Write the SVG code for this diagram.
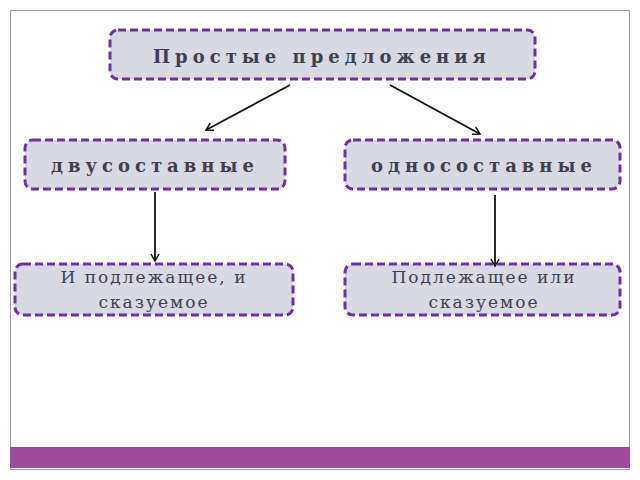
<svg xmlns="http://www.w3.org/2000/svg" width="640" height="480" viewBox="0 0 640 480">
<style>
.box{fill:#d9d9e3;stroke:#7030a0;stroke-width:3;stroke-dasharray:8 4}
.b{font-family:"DejaVu Serif","Liberation Serif",serif;font-weight:bold;fill:#404050;text-anchor:middle}
.n{font-family:"DejaVu Serif","Liberation Serif",serif;fill:#404050;text-anchor:middle;font-size:17px;letter-spacing:2px}
.c{stroke:#111;stroke-width:1.8;fill:none;marker-end:url(#a)}
</style>
<defs><marker id="a" markerWidth="10" markerHeight="10" refX="8" refY="5" orient="auto" markerUnits="userSpaceOnUse"><path d="M1,1 L8,5 L1,9" fill="none" stroke="#111" stroke-width="1.5"/></marker></defs>
<rect x="10.5" y="10.5" width="619" height="459" fill="#fff" stroke="#b88bc0"/>
<rect x="10" y="447" width="620" height="21" fill="#9e4b9e"/>
<g id="top"><rect class="box" x="110" y="30" width="425" height="49" rx="8"/><text class="b" x="322" y="63" font-size="18" letter-spacing="5">Простые предложения</text></g>
<g id="left"><rect class="box" x="25" y="140" width="260" height="49" rx="8"/><text class="b" x="155" y="172" font-size="18" letter-spacing="5">двусоставные</text></g>
<g id="right"><rect class="box" x="345" y="140" width="275" height="49" rx="8"/><text class="b" x="484" y="172" font-size="18" letter-spacing="5">односоставные</text></g>
<g id="bl"><rect class="box" x="15" y="264" width="278" height="51" rx="8"/><text class="n" x="154" y="283">И подлежащее, и</text><text class="n" x="154" y="308">сказуемое</text></g>
<g id="br"><rect class="box" x="345" y="264" width="275" height="51" rx="8"/><text class="n" x="484" y="283">Подлежащее или</text><text class="n" x="484" y="308">сказуемое</text></g>
<g id="connectors">
<line class="c" x1="290" y1="85" x2="206" y2="130"/>
<line class="c" x1="390" y1="85" x2="480" y2="134"/>
<line class="c" x1="155" y1="192" x2="155" y2="261"/>
<line class="c" x1="495" y1="195" x2="495" y2="266"/>
</g>
</svg>
